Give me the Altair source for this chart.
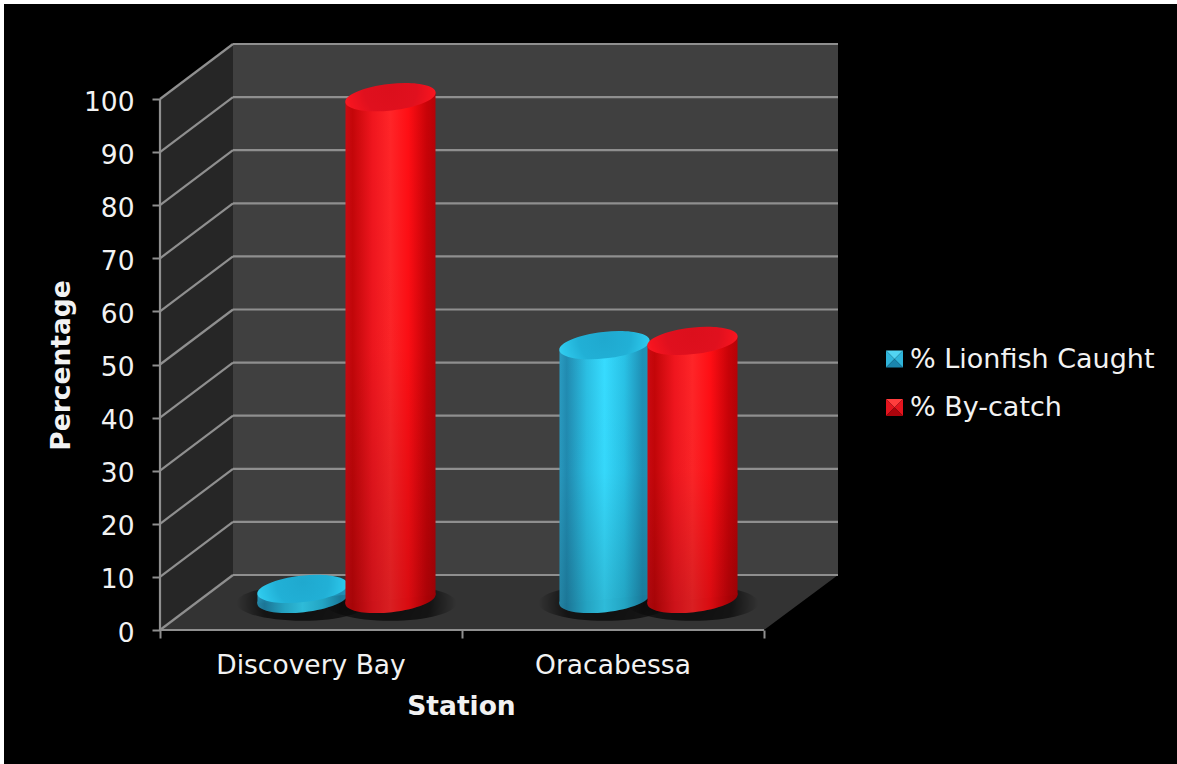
import math

import altair as alt
import pandas as pd

# Chart values
stations = ["Discovery Bay", "Oracabessa"]
series_names = ["% Lionfish Caught", "% By-catch"]
lionfish = [1.9, 47.8]
bycatch = [94.5, 48.6]
y_ticks = [0, 10, 20, 30, 40, 50, 60, 70, 80, 90, 100]

FONT = "DejaVu Sans"
TEXT = "#f2f2f2"
LINE = "#8f8f8f"
LINE_WIDTH = 2.2
FONT_SIZE = 26.5

# Box geometry, in axis units: one station spans 1 on x, y is in percent
X_MAX = 678 / 302
Y_MAX = 586 / 5.31
DEPTH_X = 73 / 302
DEPTH_Y = 55 / 5.31
BACK_RIGHT = 2 + 74 / 302
# Cylinders sit part-way into the box
BAR_SHIFT_X = 35.5 / 302
BAR_BASE = 31 / 5.31
BAR_OFFSET = 44 / 302
BAR_HALF = 45 / 302
BAR_TILT = 4.5 / 5.31
SHADOW_DROP = 4 / 5.31

X_AXIS = alt.Axis(
    values=[0, 1, 2], labels=False, domain=False, grid=False, zindex=1,
    tickSize=8, tickWidth=2, tickColor=LINE,
    title="Station", titleFont=FONT, titleFontSize=FONT_SIZE, titleFontWeight="bold",
    titleColor=TEXT, titleX=301, titleY=76, titleBaseline="middle", titleAlign="center",
)
Y_AXIS = alt.Axis(
    values=y_ticks, domain=False, grid=False, zindex=1, tickSize=8, tickWidth=2,
    tickColor=LINE, labelFont=FONT, labelFontSize=FONT_SIZE, labelColor=TEXT,
    labelPadding=18, labelOverlap=False, labelOffset=3,
    title="Percentage", titleFont=FONT, titleFontSize=FONT_SIZE, titleFontWeight="bold",
    titleColor=TEXT, titleAngle=270, titleX=-99, titleY=321, titleBaseline="middle", titleAlign="center",
)


def X(field):
    return alt.X(field, type="quantitative", scale=alt.Scale(domain=[0, X_MAX], nice=False), axis=X_AXIS)


def Y(field):
    return alt.Y(field, type="quantitative", scale=alt.Scale(domain=[0, Y_MAX], nice=False), axis=Y_AXIS)


def linear(stops, vertical=False):
    return alt.LinearGradient(
        gradient="linear",
        x1=0, y1=0,
        x2=0 if vertical else 1,
        y2=1 if vertical else 0,
        stops=[alt.GradientStop(offset=o, color=c) for o, c in stops],
    )


def radial(stops, cy=0.5, r=0.5):
    return alt.RadialGradient(
        gradient="radial",
        x1=0.5, y1=cy, r1=0, x2=0.5, y2=cy, r2=r,
        stops=[alt.GradientStop(offset=o, color=c) for o, c in stops],
    )


def ellipse_path(ratio, tilt_deg):
    """Unit ellipse as four cubic segments, rotated anticlockwise on screen."""
    k = 0.5523
    c, s = math.cos(math.radians(tilt_deg)), math.sin(math.radians(tilt_deg))

    def pt(u, v):
        return f"{u * c + v * s:.4f} {-u * s + v * c:.4f}"

    b = ratio
    return (
        f"M {pt(-1, 0)} "
        f"C {pt(-1, -k * b)} {pt(-k, -b)} {pt(0, -b)} "
        f"C {pt(k, -b)} {pt(1, -k * b)} {pt(1, 0)} "
        f"C {pt(1, k * b)} {pt(k, b)} {pt(0, b)} "
        f"C {pt(-k, b)} {pt(-1, k * b)} {pt(-1, 0)} Z"
    )


# Ellipses used for the cylinder caps and floor shadows
CAP = ellipse_path(0.292, 6.3)
CAP_SIZE = (2 * 45.4) ** 2
SHADOW = ellipse_path(0.27, 0)
SHADOW_SIZE = (2 * 66) ** 2

STYLE = {
    series_names[0]: {
        "body": [(0, "#2a9cc2"), (0.08, "#218bb1"), (0.3, "#2bbfe3"), (0.5, "#37dcff"),
                 (0.72, "#29c2e6"), (0.92, "#1f90b6"), (1, "#2093b8")],
        "cap": [(0, "#1fa9cf"), (0.5, "#21b0d6"), (0.8, "#2cc6ea"), (1, "#3ed6f5")],
    },
    series_names[1]: {
        "body": [(0, "#cc0a12"), (0.08, "#c40609"), (0.3, "#f0161e"), (0.5, "#ff2528"),
                 (0.7, "#ff0e14"), (0.9, "#c80308"), (1, "#b50207")],
        "cap": [(0, "#dc0f1c"), (0.5, "#e0101e"), (0.8, "#f5141f"), (1, "#ff1f2a")],
    },
}

rows = []
for i, name in enumerate(stations):
    for sign, sname, v in ((-1, series_names[0], lionfish[i]), (1, series_names[1], bycatch[i])):
        rows.append(dict(station=name, series=sname, value=v,
                         cx=i + 0.5 + BAR_SHIFT_X + sign * BAR_OFFSET,
                         base=BAR_BASE, top=BAR_BASE + v, shadow=BAR_BASE - SHADOW_DROP))
bars = pd.DataFrame(rows)

# Each cylinder body is a two-point area whose ends follow the tilt of the caps
edges = []
for row in rows:
    for side_sign in (-1, 1):
        edges.append(dict(series=row["series"], station=row["station"],
                          x=row["cx"] + side_sign * BAR_HALF,
                          lo=row["base"] + side_sign * BAR_TILT,
                          hi=row["top"] + side_sign * BAR_TILT))
edges = pd.DataFrame(edges)

layers = []

# Black panel behind everything, inset from the top and left page edges
layers.append(
    alt.Chart(pd.DataFrame({"a": [0]})).mark_rect(color="#000000").encode(
        x=alt.value(-156), x2=alt.value(1017), y=alt.value(-40), y2=alt.value(720)
    )
)

# Side wall and floor
side = pd.DataFrame({"x": [0, DEPTH_X], "lo": [0, DEPTH_Y], "hi": [100, 100 + DEPTH_Y]})
layers.append(
    alt.Chart(side).mark_area(color="#262626", opacity=1, interpolate="linear").encode(
        x=X("x"), y=Y("lo"), y2="hi:Q"
    )
)
floor = pd.DataFrame({"y": [0, DEPTH_Y], "lo": [0, DEPTH_X], "hi": [2, BACK_RIGHT]})
layers.append(
    alt.Chart(floor).mark_area(color="#333333", opacity=1, orient="horizontal", interpolate="linear").encode(
        y=Y("y"), x=X("lo"), x2="hi:Q"
    )
)

# Back wall with its gridlines
back = pd.DataFrame({"x": [DEPTH_X], "x2": [BACK_RIGHT], "y": [DEPTH_Y], "y2": [100 + DEPTH_Y]})
layers.append(
    alt.Chart(back).mark_rect(color="#404040").encode(x=X("x"), x2="x2:Q", y=Y("y"), y2="y2:Q")
)
grid = pd.DataFrame({"v": y_ticks})
grid["back"] = grid["v"] + DEPTH_Y
grid["x"] = DEPTH_X
grid["x2"] = BACK_RIGHT
layers.append(
    alt.Chart(grid).mark_rule(color=LINE, strokeWidth=LINE_WIDTH).encode(x=X("x"), x2="x2:Q", y=Y("back"))
)
diag = pd.DataFrame(
    [dict(v=v, x=0, y=v) for v in y_ticks] + [dict(v=v, x=DEPTH_X, y=v + DEPTH_Y) for v in y_ticks]
)
layers.append(
    alt.Chart(diag).mark_line(color=LINE, strokeWidth=LINE_WIDTH).encode(x=X("x"), y=Y("y"), detail="v:N")
)

# Front edges of the box
layers.append(
    alt.Chart(pd.DataFrame({"x": [0], "y": [0], "y2": [100]})).mark_rule(color=LINE, strokeWidth=LINE_WIDTH).encode(
        x=X("x"), y=Y("y"), y2="y2:Q"
    )
)
layers.append(
    alt.Chart(pd.DataFrame({"x": [0], "x2": [2], "y": [0]})).mark_rule(color=LINE, strokeWidth=LINE_WIDTH).encode(
        x=X("x"), x2="x2:Q", y=Y("y")
    )
)

# Soft shadows on the floor
layers.append(
    alt.Chart(bars).mark_point(
        shape=SHADOW, size=SHADOW_SIZE, filled=True, opacity=1, strokeWidth=0,
        fill=radial([(0, "rgba(0,0,0,0.7)"), (0.6, "rgba(0,0,0,0.6)"), (1, "rgba(0,0,0,0)")]),
    ).encode(x=X("cx"), y=Y("shadow"))
)

# Cylinders: base ellipse, body, shading, then the cap; lionfish first so by-catch overlaps it
for sname in series_names:
    part = bars[bars["series"] == sname]
    part_edges = edges[edges["series"] == sname]
    style = STYLE[sname]
    body = linear(style["body"])
    shade = linear([(0, "rgba(0,0,0,0)"), (0.5, "rgba(0,0,0,0.02)"), (1, "rgba(0,0,0,0.15)")], vertical=True)
    layers.append(
        alt.Chart(part).mark_point(shape=CAP, size=CAP_SIZE, filled=True, opacity=1, strokeWidth=0, fill=body)
        .encode(x=X("cx"), y=Y("base"))
    )
    layers.append(
        alt.Chart(part).mark_point(
            shape=CAP, size=CAP_SIZE, filled=True, opacity=1, strokeWidth=0, fill="rgba(0,0,0,0.15)"
        ).encode(x=X("cx"), y=Y("base"))
    )
    layers.append(
        alt.Chart(part_edges).mark_area(fill=body, opacity=1, interpolate="linear").encode(
            x=X("x"), y=Y("lo"), y2="hi:Q", detail="station:N"
        )
    )
    layers.append(
        alt.Chart(part_edges).mark_area(fill=shade, opacity=1, interpolate="linear").encode(
            x=X("x"), y=Y("lo"), y2="hi:Q", detail="station:N"
        )
    )
    layers.append(
        alt.Chart(part).mark_point(
            shape=CAP, size=CAP_SIZE, filled=True, opacity=1, strokeWidth=0,
            fill=radial(style["cap"], cy=0.42, r=0.58),
        ).encode(x=X("cx"), y=Y("top"))
    )

# Station names under the front edge
layers.append(
    alt.Chart(pd.DataFrame({"station": stations, "x": [0.5, 1.5], "y": [0, 0]})).mark_text(
        font=FONT, fontSize=FONT_SIZE, color=TEXT, dy=36, baseline="middle"
    ).encode(x=X("x"), y=Y("y"), text="station:N")
)

# Legend labels, with bevelled facets drawn as the swatches
layers.append(
    alt.Chart(pd.DataFrame({"series": series_names, "x": [0, 0], "y": [0, 0]})).mark_square(opacity=0).encode(
        x=X("x"), y=Y("y"),
        color=alt.Color(
            "series:N",
            scale=alt.Scale(domain=series_names, range=["#35c5ea", "#ee1620"]),
            legend=alt.Legend(
                orient="none", legendX=723, legendY=302, title=None, symbolType="square", symbolSize=289,
                symbolOpacity=0, symbolStrokeWidth=0, labelFont=FONT, labelFontSize=27, labelColor=TEXT,
                labelOffset=0, rowPadding=20, labelLimit=400,
            ),
        ),
    )
)
FACETS = [
    "M -1 -1 L 1 -1 L 0 0 Z",
    "M -1 -1 L -1 1 L 0 0 Z",
    "M 1 -1 L 1 1 L 0 0 Z",
    "M -1 1 L 1 1 L 0 0 Z",
]
FACET_COLOURS = {
    series_names[0]: ["#52d4f2", "#2fb4da", "#2fb4da", "#1a85ad"],
    series_names[1]: ["#ff3d3d", "#e4141e", "#e4141e", "#ab040c"],
}
for offset, sname in zip((315, 363.5), series_names):
    for path, colour in zip(FACETS, FACET_COLOURS[sname]):
        layers.append(
            alt.Chart(pd.DataFrame({"a": [0]})).mark_point(
                shape=path, size=289, filled=True, opacity=1, strokeWidth=0, fill=colour
            ).encode(x=alt.value(734.5), y=alt.value(offset))
        )

chart = (
    alt.layer(*layers)
    .resolve_scale(color="independent")
    .properties(
        width=678, height=586, background="#ffffff",
        padding={"left": 160, "top": 44, "right": 339, "bottom": 134},
        autosize=alt.AutoSizeParams(type="none"),
    )
    .configure_view(strokeWidth=0)
)
chart.save("out.html", embed_options={"renderer": "svg", "actions": False})
